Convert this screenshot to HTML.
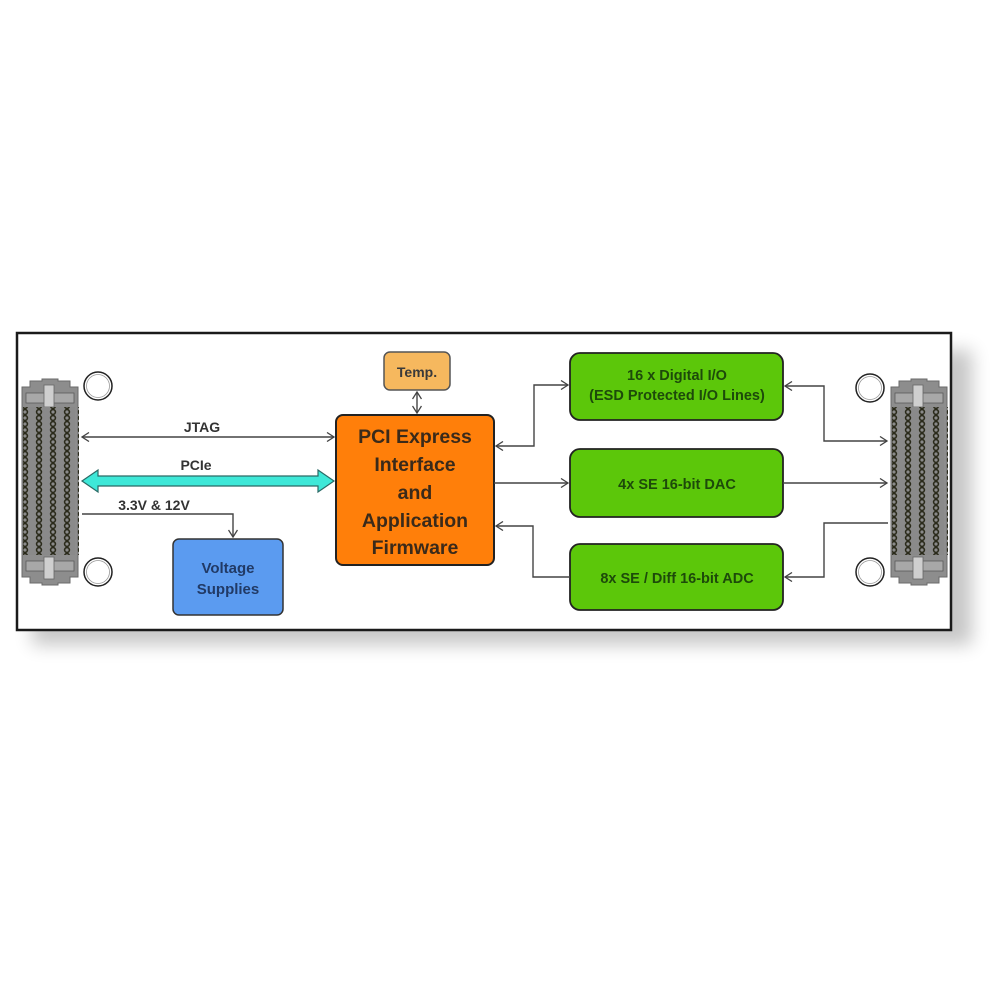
<!DOCTYPE html>
<html><head><meta charset="utf-8"><style>
html,body{margin:0;padding:0;background:#fff;}
svg{display:block;}
text{font-family:"Liberation Sans",Arial,sans-serif;font-weight:bold;}
</style></head><body>
<svg width="1000" height="1000" viewBox="0 0 1000 1000" xmlns="http://www.w3.org/2000/svg">
<defs>
<filter id="sh" x="-10%" y="-20%" width="120%" height="150%"><feGaussianBlur stdDeviation="9"/></filter>
<pattern id="pins" x="0" y="0" width="14" height="6" patternUnits="userSpaceOnUse">
<circle cx="5" cy="3" r="2.4" fill="none" stroke="#2a2a1a" stroke-width="1.6"/>
</pattern>
<marker id="ah" markerWidth="10" markerHeight="10" refX="8" refY="5" orient="auto-start-reverse" markerUnits="userSpaceOnUse">
<path d="M1,0.5 L8,5 L1,9.5" fill="none" stroke="#444" stroke-width="1.3"/>
</marker>
<g id="conn">
<path d="M2,8 L10,8 L10,2 L22,2 L22,0 L38,0 L38,2 L50,2 L50,8 L58,8 L58,198 L50,198 L50,204 L38,204 L38,206 L22,206 L22,204 L10,204 L10,198 L2,198 Z" fill="#8d8d8d" stroke="#6a6a6a" stroke-width="1"/>
<rect x="6" y="14" width="48" height="10" fill="#a8a8a8" stroke="#5a5a5a" stroke-width="0.8"/>
<rect x="6" y="182" width="48" height="10" fill="#a8a8a8" stroke="#5a5a5a" stroke-width="0.8"/>
<rect x="24" y="6" width="10" height="22" fill="#cfcfcf" stroke="#666" stroke-width="0.8"/>
<rect x="24" y="178" width="10" height="22" fill="#cfcfcf" stroke="#666" stroke-width="0.8"/>
<rect x="5" y="28" width="50" height="148" fill="#8a8a8a"/>
<rect x="3" y="28" width="56" height="148" fill="url(#pins)"/>
</g>
</defs>
<!-- shadow -->
<rect x="32" y="350" width="940" height="295" fill="#000" opacity="0.22" filter="url(#sh)"/>
<rect x="17" y="333" width="934" height="297" fill="#fff" stroke="#1a1a1a" stroke-width="2.5"/>

<use href="#conn" x="20" y="379"/>
<use href="#conn" x="889" y="379"/>

<g fill="#fff" stroke="#222" stroke-width="1.5">
<circle cx="98" cy="386" r="14"/><circle cx="98" cy="572" r="14"/>
<circle cx="870" cy="388" r="14"/><circle cx="870" cy="572" r="14"/>
</g>
<g fill="none" stroke="#999" stroke-width="0.8"><circle cx="98" cy="386" r="11.5"/><circle cx="98" cy="572" r="11.5"/><circle cx="870" cy="388" r="11.5"/><circle cx="870" cy="572" r="11.5"/></g>

<!-- boxes -->
<rect x="384" y="352" width="66" height="38" rx="6" fill="#f6b85e" stroke="#555" stroke-width="1.5"/>
<text x="417" y="377" font-size="14" fill="#3a3a3a" text-anchor="middle">Temp.</text>
<rect x="336" y="415" width="158" height="150" rx="7" fill="#ff7f0a" stroke="#222" stroke-width="2"/>
<g font-size="19.5" fill="#3a2a1a" text-anchor="middle">
<text x="415" y="443">PCI Express</text><text x="415" y="471">Interface</text><text x="415" y="499">and</text><text x="415" y="527">Application</text><text x="415" y="554">Firmware</text></g>
<rect x="173" y="539" width="110" height="76" rx="6" fill="#5b9bf0" stroke="#333" stroke-width="1.5"/>
<g font-size="15" fill="#213a66" text-anchor="middle"><text x="228" y="573">Voltage</text><text x="228" y="594">Supplies</text></g>

<g fill="#5cc70a" stroke="#222" stroke-width="1.8">
<rect x="570" y="353" width="213" height="67" rx="10"/>
<rect x="570" y="449" width="213" height="68" rx="10"/>
<rect x="570" y="544" width="213" height="66" rx="10"/>
</g>
<g font-size="14.5" fill="#1d4a0a" text-anchor="middle">
<text x="677" y="380">16 x Digital I/O</text><text x="677" y="400">(ESD Protected I/O Lines)</text>
<text x="677" y="489">4x SE 16-bit DAC</text>
<text x="677" y="583">8x SE / Diff 16-bit ADC</text></g>

<!-- connectors -->
<g fill="none" stroke="#444" stroke-width="1.4">
<line x1="82" y1="437" x2="334" y2="437" marker-start="url(#ah)" marker-end="url(#ah)"/>
<polyline points="82,514 233,514 233,537" marker-end="url(#ah)"/>
<line x1="417" y1="392" x2="417" y2="413" marker-start="url(#ah)" marker-end="url(#ah)"/>
<polyline points="496,446 534,446 534,385 568,385" marker-start="url(#ah)" marker-end="url(#ah)"/>
<line x1="494" y1="483" x2="568" y2="483" marker-end="url(#ah)"/>
<polyline points="570,577 533,577 533,526 496,526" marker-end="url(#ah)"/>
<polyline points="785,386 824,386 824,441 887,441" marker-start="url(#ah)" marker-end="url(#ah)"/>
<line x1="783" y1="483" x2="887" y2="483" marker-end="url(#ah)"/>
<polyline points="888,523 824,523 824,577 785,577" marker-end="url(#ah)"/>
</g>
<!-- PCIe thick arrow -->
<path d="M82,481 L98,470 L98,476 L318,476 L318,470 L334,481 L318,492 L318,486 L98,486 L98,492 Z" fill="#3ee8d8" stroke="#2a6a66" stroke-width="1.2"/>

<g font-size="14" fill="#333" text-anchor="middle">
<text x="202" y="432">JTAG</text>
<text x="196" y="470">PCIe</text>
<text x="154" y="510">3.3V &amp; 12V</text>
</g>
</svg>
</body></html>
